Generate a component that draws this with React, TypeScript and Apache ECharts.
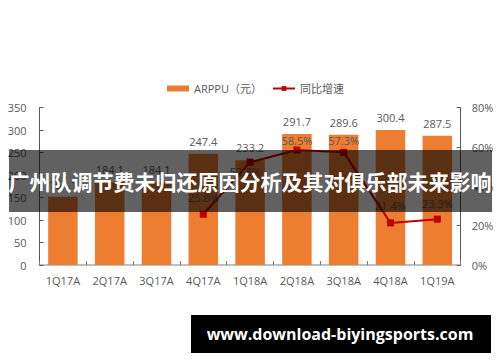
import React, { useEffect, useRef } from "react";
import * as echarts from "echarts";

const categories = ["1Q17A", "2Q17A", "3Q17A", "4Q17A", "1Q18A", "2Q18A", "3Q18A", "4Q18A", "1Q19A"];
const arppu = [152.1, 184.1, 184.1, 247.4, 233.2, 291.7, 289.6, 300.4, 287.5];
const growthCats = ["4Q17A", "1Q18A", "2Q18A", "3Q18A", "4Q18A", "1Q19A"];
const growth = [25.8, 52.3, 58.5, 57.3, 21.4, 23.3];
const leftTicks = { min: 0, max: 350, interval: 50 };
const rightTicks = { min: 0, max: 80, interval: 20 };
const titleText = "广州队调节费未归还原因分析及其对俱乐部未来影响";
const siteText = "www.download-biyingsports.com";

const FONT = "'Open Sans', 'Noto Sans CJK SC', sans-serif";
const GRAY = "#595959";

export default function App() {
  const ref = useRef<HTMLDivElement>(null);
  useEffect(() => {
    if (!ref.current) return;
    const chart = echarts.init(ref.current, undefined, { renderer: "svg" });
    const lineData = categories.map((c) => {
      const i = growthCats.indexOf(c);
      return i >= 0 ? growth[i] : null;
    });
    const labelCfg: Record<string, any> = {
      "4Q17A": { position: "top", distance: 8 },
      "1Q18A": { position: "bottom", distance: 0, offset: [-5, 0] },
      "2Q18A": { position: "top", distance: 0 },
      "3Q18A": { position: "top", distance: 3 },
      "4Q18A": { position: "top", distance: 8 },
      "1Q19A": { position: "top", distance: 7 },
    };
    chart.setOption({
      animation: false,
      textStyle: { fontFamily: FONT },
      legend: {
        left: 162,
        top: 78,
        itemWidth: 22,
        itemHeight: 6,
        itemGap: 10,
        textStyle: { color: GRAY, fontSize: 11, fontFamily: FONT },
        data: [
          { name: "ARPPU（元）", icon: "rect" },
          { name: "同比增速" },
        ],
      },
      grid: { left: 39.5, right: 39.3, top: 107.7, bottom: 97 },
      xAxis: {
        type: "category",
        data: categories,
        axisLine: { lineStyle: { color: "#bfbfbf", width: 2 } },
        axisTick: { show: true, inside: true, length: 4, lineStyle: { color: "#7f7f7f" } },
        axisLabel: { color: GRAY, fontSize: 11, margin: 10, fontFamily: FONT },
      },
      yAxis: [
        {
          type: "value",
          ...leftTicks,
          splitLine: { show: false },
          axisLine: { show: true, lineStyle: { color: GRAY } },
          axisTick: { show: true, inside: true, length: 4, lineStyle: { color: GRAY } },
          axisLabel: { color: GRAY, fontSize: 11, margin: 13, fontFamily: FONT },
        },
        {
          type: "value",
          ...rightTicks,
          splitLine: { show: false },
          axisLine: { show: true, lineStyle: { color: GRAY } },
          axisTick: { show: true, inside: true, length: 4, lineStyle: { color: GRAY } },
          axisLabel: { color: GRAY, fontSize: 11, margin: 11, formatter: "{value}%", fontFamily: FONT },
        },
      ],
      series: [
        {
          name: "ARPPU（元）",
          type: "bar",
          data: arppu,
          barWidth: "63%",
          itemStyle: { color: "#ED7D31" },
          label: {
            show: true,
            position: "top",
            distance: 7,
            color: GRAY,
            fontSize: 11,
            fontFamily: FONT,
            formatter: (p: any) => p.value.toFixed(1),
          },
        },
        {
          name: "同比增速",
          type: "line",
          yAxisIndex: 1,
          data: lineData.map((v, i) =>
            v === null ? null : { value: v, label: labelCfg[categories[i]] }
          ),
          symbol: "rect",
          symbolSize: 7,
          lineStyle: { color: "#C00000", width: 2 },
          itemStyle: { color: "#C00000" },
          label: {
            show: true,
            color: GRAY,
            fontSize: 11,
            fontFamily: FONT,
            formatter: (p: any) => p.value.toFixed(1) + "%",
          },
        },
      ],
      graphic: [
        {
          type: "rect",
          z: 100,
          shape: { x: 9, y: 150, width: 483, height: 62 },
          style: { fill: "rgba(0,0,0,0.62)" },
        },
        {
          type: "text",
          z: 101,
          x: 250,
          y: 181,
          style: {
            text: titleText,
            fill: "#ffffff",
            font: "bold 21px 'Noto Sans CJK SC', sans-serif",
            align: "center",
            verticalAlign: "middle",
          },
        },
        {
          type: "rect",
          z: 100,
          shape: { x: 191, y: 315, width: 300, height: 38 },
          style: { fill: "#000000" },
        },
        {
          type: "text",
          z: 101,
          x: 340,
          y: 334,
          style: {
            text: siteText,
            fill: "#ffffff",
            font: "bold 16px 'Open Sans', sans-serif",
            align: "center",
            verticalAlign: "middle",
          },
        },
      ],
    });
    return () => chart.dispose();
  }, []);
  return (
    <div
      ref={ref}
      style={{ position: "absolute", left: 0, top: 0, width: 500, height: 362, background: "#fff" }}
    />
  );
}
